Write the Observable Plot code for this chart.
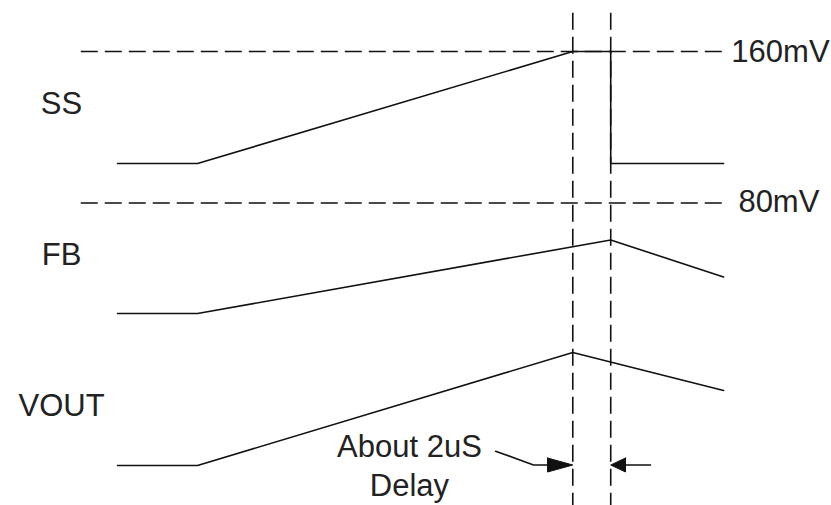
<!DOCTYPE html>
<html>
<head>
<meta charset="utf-8">
<script src="https://cdn.jsdelivr.net/npm/d3@7"></script>
<script src="https://cdn.jsdelivr.net/npm/@observablehq/plot@0.6"></script>
<style>
  html, body { margin: 0; padding: 0; background: #fff; }
  #chart svg { display: block; }
</style>
</head>
<body>
<div id="chart"></div>
<script>
// Soft-start timing: time in µs, vertical position in diagram units (lanes stacked bottom-up)
const ssTime   = [0, 4.22, 24, 26, 26, 31.95];
const ssLevel  = [342, 342, 454, 454, 342, 342];
const fbTime   = [0, 4.22, 26, 31.95];
const fbLevel  = [192, 192, 265.5, 228.5];
const voutTime = [0, 4.22, 24, 31.95];
const voutLevel= [40, 40, 153, 115];

// Threshold references
const refNames  = ["160mV", "80mV"];
const refLevels = [454, 302.5];
const refLabelT = [32.36, 32.73];
const refLabelY = [453, 303];

// Event markers (SS reaches 160mV, then ~2µs later SS is pulled low)
const markerTimes = [24, 26];

// Signal names on the left
const signalNames = ["SS", "FB", "VOUT"];
const signalLabelY = [401.9, 250.6, 99.9];

// Delay annotation
const noteLines = ["About 2uS", "Delay"];
const noteY = [58.2, 19.2];
const noteT = 15.39;
const leaderT = [19.93, 21.93, 22.67];
const leaderY = [54.3, 40.5, 40.5];
const headLeftT = [22.67, 24, 22.67, 22.67];
const headLeftY = [47.5, 40.5, 33.5, 47.5];
const headRightT = [26.78, 26, 26.78, 26.78];
const headRightY = [47.5, 40.5, 33.5, 47.5];
const tailRightT = [26.78, 28.1];
const tailRightY = [40.5, 40.5];

const zip = (ts, ys) => ts.map((t, i) => ({t, y: ys[i]}));

const font = "'Liberation Sans', Arial, Helvetica, sans-serif";
const ink = "#111";
const dash = "17,7";

const chart = Plot.plot({
  width: 831,
  height: 505,
  margin: 0,
  x: {domain: [-117 / 18.97, 714 / 18.97], axis: null},
  y: {domain: [0, 505], axis: null},
  style: {background: "#fff"},
  marks: [
    // dashed threshold lines
    Plot.ruleY(refLevels, {y: d => d, x1: -1.91, x2: 31.97, stroke: ink, strokeWidth: 1.6, strokeDasharray: dash}),
    // dashed event markers
    Plot.ruleX(markerTimes, {x: d => d, y1: 492.3, y2: 0, stroke: ink, strokeWidth: 1.6, strokeDasharray: dash}),
    // waveforms
    Plot.line(zip(ssTime, ssLevel), {x: "t", y: "y", stroke: ink, strokeWidth: 1.6, curve: "linear"}),
    Plot.line(zip(fbTime, fbLevel), {x: "t", y: "y", stroke: ink, strokeWidth: 1.6}),
    Plot.line(zip(voutTime, voutLevel), {x: "t", y: "y", stroke: ink, strokeWidth: 1.6}),
    // delay arrows
    Plot.line(zip(leaderT, leaderY), {x: "t", y: "y", stroke: ink, strokeWidth: 1.6}),
    Plot.line(zip(headLeftT, headLeftY), {x: "t", y: "y", stroke: ink, fill: ink, strokeWidth: 1}),
    Plot.line(zip(headRightT, headRightY), {x: "t", y: "y", stroke: ink, fill: ink, strokeWidth: 1}),
    Plot.line(zip(tailRightT, tailRightY), {x: "t", y: "y", stroke: ink, strokeWidth: 1.6}),
    // labels
    Plot.text(signalNames, {x: -2.95, y: (d, i) => signalLabelY[i], text: d => d, fontSize: 31, fontFamily: font, fill: "#222", textAnchor: "middle"}),
    Plot.text(refNames, {x: (d, i) => refLabelT[i], y: (d, i) => refLabelY[i], text: d => d, fontSize: 31, fontFamily: font, fill: "#222", textAnchor: "start"}),
    Plot.text(noteLines, {x: noteT, y: (d, i) => noteY[i], text: d => d, fontSize: 31, fontFamily: font, fill: "#222", textAnchor: "middle"})
  ]
});

document.getElementById("chart").appendChild(chart);
</script>
</body>
</html>
